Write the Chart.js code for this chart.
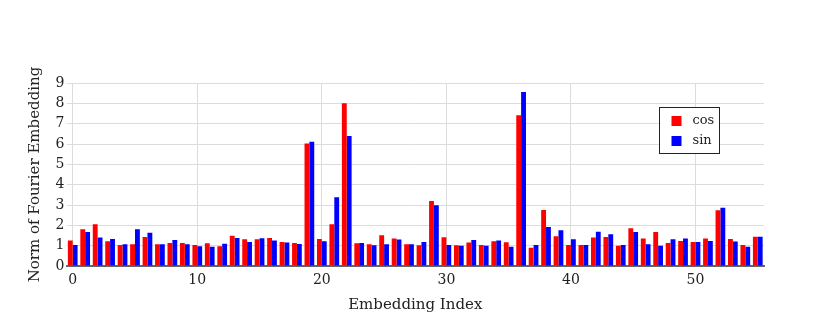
<!DOCTYPE html>
<html>
<head>
<meta charset="utf-8">
<script src="https://cdn.jsdelivr.net/npm/chart.js@4"></script>
<style>
  html, body { margin: 0; padding: 0; background: #fff; }
  #wrap { width: 830px; height: 332px; }
</style>
</head>
<body>
<div id="wrap"><canvas id="fourierChart" width="830" height="332"></canvas></div>
<script>
// Embedding indices 0..55
const indices = [
  0, 1, 2, 3, 4, 5, 6, 7, 8, 9, 10, 11, 12, 13, 14, 15, 16, 17, 18, 19,
  20, 21, 22, 23, 24, 25, 26, 27, 28, 29, 30, 31, 32, 33, 34, 35, 36, 37, 38, 39,
  40, 41, 42, 43, 44, 45, 46, 47, 48, 49, 50, 51, 52, 53, 54, 55
];

const cosNorms = [
  1.25, 1.81, 2.05, 1.22, 1.03, 1.07, 1.43, 1.07, 1.13, 1.13,
  1.03, 1.12, 0.97, 1.49, 1.31, 1.31, 1.38, 1.18, 1.13, 6.03,
  1.33, 2.05, 8.01, 1.12, 1.07, 1.51, 1.35, 1.07, 1.02, 3.20,
  1.41, 1.02, 1.15, 1.03, 1.22, 1.17, 7.42, 0.90, 2.76, 1.46,
  1.03, 1.03, 1.40, 1.43, 1.00, 1.86, 1.35, 1.67, 1.13, 1.23,
  1.18, 1.35, 2.74, 1.33, 1.03, 1.44
];

const sinNorms = [
  1.03, 1.67, 1.40, 1.33, 1.07, 1.81, 1.64, 1.07, 1.28, 1.07,
  0.97, 0.95, 1.10, 1.38, 1.18, 1.36, 1.26, 1.15, 1.08, 6.11,
  1.22, 3.38, 6.39, 1.13, 1.02, 1.07, 1.30, 1.07, 1.18, 2.99,
  1.03, 0.99, 1.28, 0.99, 1.26, 0.95, 8.56, 1.03, 1.92, 1.76,
  1.31, 1.03, 1.69, 1.56, 1.03, 1.67, 1.07, 0.99, 1.31, 1.35,
  1.18, 1.23, 2.86, 1.20, 0.95, 1.44
];

const xTickStep = 10;
const FONT = "'DejaVu Serif', serif";

// legend drawn inside the plot area, boxed like the original
const boxLegend = {
  id: "boxLegend",
  afterDraw(chart) {
    const ctx = chart.ctx;
    const x = 659.5, y = 107.5, w = 60, h = 46;
    ctx.save();
    ctx.fillStyle = "#fff";
    ctx.fillRect(x, y, w, h);
    ctx.strokeStyle = "#222";
    ctx.lineWidth = 1;
    ctx.strokeRect(x, y, w, h);
    ctx.font = "13px " + FONT;
    ctx.textBaseline = "middle";
    chart.data.datasets.forEach((ds, i) => {
      const cy = y + 13.5 + i * 20;
      ctx.fillStyle = ds.backgroundColor;
      ctx.fillRect(x + 12, cy - 5, 10, 10);
      ctx.fillStyle = "#222";
      ctx.fillText(ds.label, x + 33, cy);
    });
    ctx.restore();
  }
};

const ctx = document.getElementById("fourierChart").getContext("2d");
new Chart(ctx, {
  type: "bar",
  data: {
    labels: indices,
    datasets: [
      { label: "cos", data: cosNorms, backgroundColor: "#ff0000", borderWidth: 0 },
      { label: "sin", data: sinNorms, backgroundColor: "#0000ff", borderWidth: 0 }
    ]
  },
  options: {
    responsive: false,
    animation: false,
    layout: { padding: { top: 83, right: 66, bottom: 10, left: 20 } },
    datasets: { bar: { categoryPercentage: 0.78, barPercentage: 1.0 } },
    plugins: {
      legend: { display: false },
      tooltip: { enabled: false }
    },
    scales: {
      x: {
        grid: {
          offset: false,
          drawTicks: false,
          color: (c) => (c.index % xTickStep === 0 ? "#dcdcdc" : "rgba(0,0,0,0)"),
          lineWidth: 1
        },
        border: { display: true, color: "#666", width: 2 },
        ticks: {
          autoSkip: false,
          maxRotation: 0,
          padding: 6,
          color: "#222",
          font: { family: FONT, size: 14 },
          callback: (v, i) => (i % xTickStep === 0 ? String(indices[i]) : "")
        },
        title: {
          display: true,
          text: "Embedding Index",
          color: "#222",
          font: { family: FONT, size: 15 },
          padding: { top: 0, bottom: 8 }
        },
        afterFit: (scale) => { scale.height = 56; }
      },
      y: {
        min: 0,
        max: 9,
        ticks: {
          stepSize: 1,
          padding: 2,
          color: "#222",
          font: { family: FONT, size: 14 }
        },
        grid: { drawTicks: false, color: "#dcdcdc" },
        border: { display: false },
        title: {
          display: true,
          text: "Norm of Fourier Embedding",
          color: "#222",
          font: { family: FONT, size: 15 },
          padding: { top: 6, bottom: 0 }
        },
        afterFit: (scale) => { scale.width = 46.5; }
      }
    }
  },
  plugins: [boxLegend]
});
</script>
</body>
</html>
